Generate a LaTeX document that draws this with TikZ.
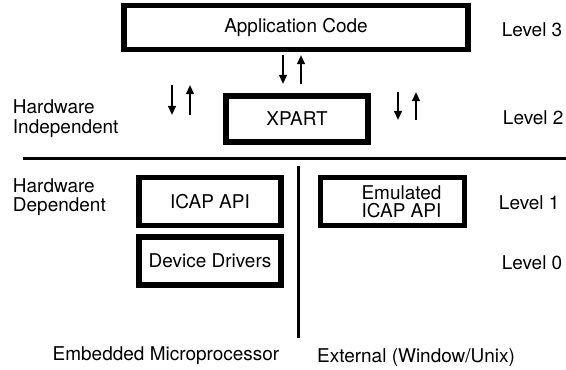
\documentclass[tikz,border=0pt]{standalone}
\usepackage{fontspec}
\setmainfont{TeX Gyre Heros}
\usetikzlibrary{arrows.meta}

\begin{document}
\begin{tikzpicture}[
  every node/.style={font=\fontsize{13.5}{14}\selectfont},
  layerbox/.style={draw,line width=3.9pt,minimum width=3.56cm,minimum height=1.19cm,inner sep=0pt},
  callarrow/.style={line width=1.45pt,-{Triangle[length=6.5pt,width=5.5pt]}},
  divider/.style={line width=2.1pt}
]
\useasboundingbox (0,0) rectangle (14.15,9.25);
% software layers
\node[layerbox,minimum width=8.61cm,minimum height=1.09cm] (app) at (7.4,8.5625) {Application Code};
\node[layerbox,minimum height=1.16cm] (xpart) at (7.425,6.275) {XPART};
\node[layerbox] (icap) at (5.25,4.2125) {ICAP API};
\node[layerbox,minimum height=1.21cm] (drivers) at (5.25,2.725) {Device Drivers};
\node[layerbox,minimum width=3.59cm,align=center,font=\fontsize{13.5}{12.8}\selectfont] (emuicap) at (9.8125,4.2125) {\hspace*{0.45cm}Emulated\\\hspace*{0.45cm}ICAP API};
% calls up and down
\foreach \x/\ytop/\ybot in {4.3/7.125/6.375, 7.075/7.875/7.15, 9.95/6.95/6.25} {
  \draw[callarrow] (\x,\ytop) -- (\x,\ybot);
  \draw[callarrow] (\x+0.45,\ybot) -- (\x+0.45,\ytop);
}
% dividers
\draw[divider] (0.575,5.2875) -- (14.15,5.2875);
\draw[divider] (7.4625,5.1) -- (7.4625,0.8);
% levels
\node[anchor=west] (lvl3) at (12.42,8.5) {Level 3};
\node[anchor=west] (lvl2) at (12.45,6.3) {Level 2};
\node[anchor=west] (lvl1) at (12.35,4.175) {Level 1};
\node[anchor=west] (lvl0) at (12.42,2.675) {Level 0};
% sides
\node[anchor=west,align=left] (hwindep) at (0.2,6.275) {Hardware\\Independent};
\node[anchor=west,align=left] (hwdep) at (0.2,4.325) {Hardware\\Dependent};
\node (embedded) at (4.15,0.35) {Embedded Microprocessor};
\node (external) at (10.4,0.3) {External (Window/Unix)};
\end{tikzpicture}
\end{document}
